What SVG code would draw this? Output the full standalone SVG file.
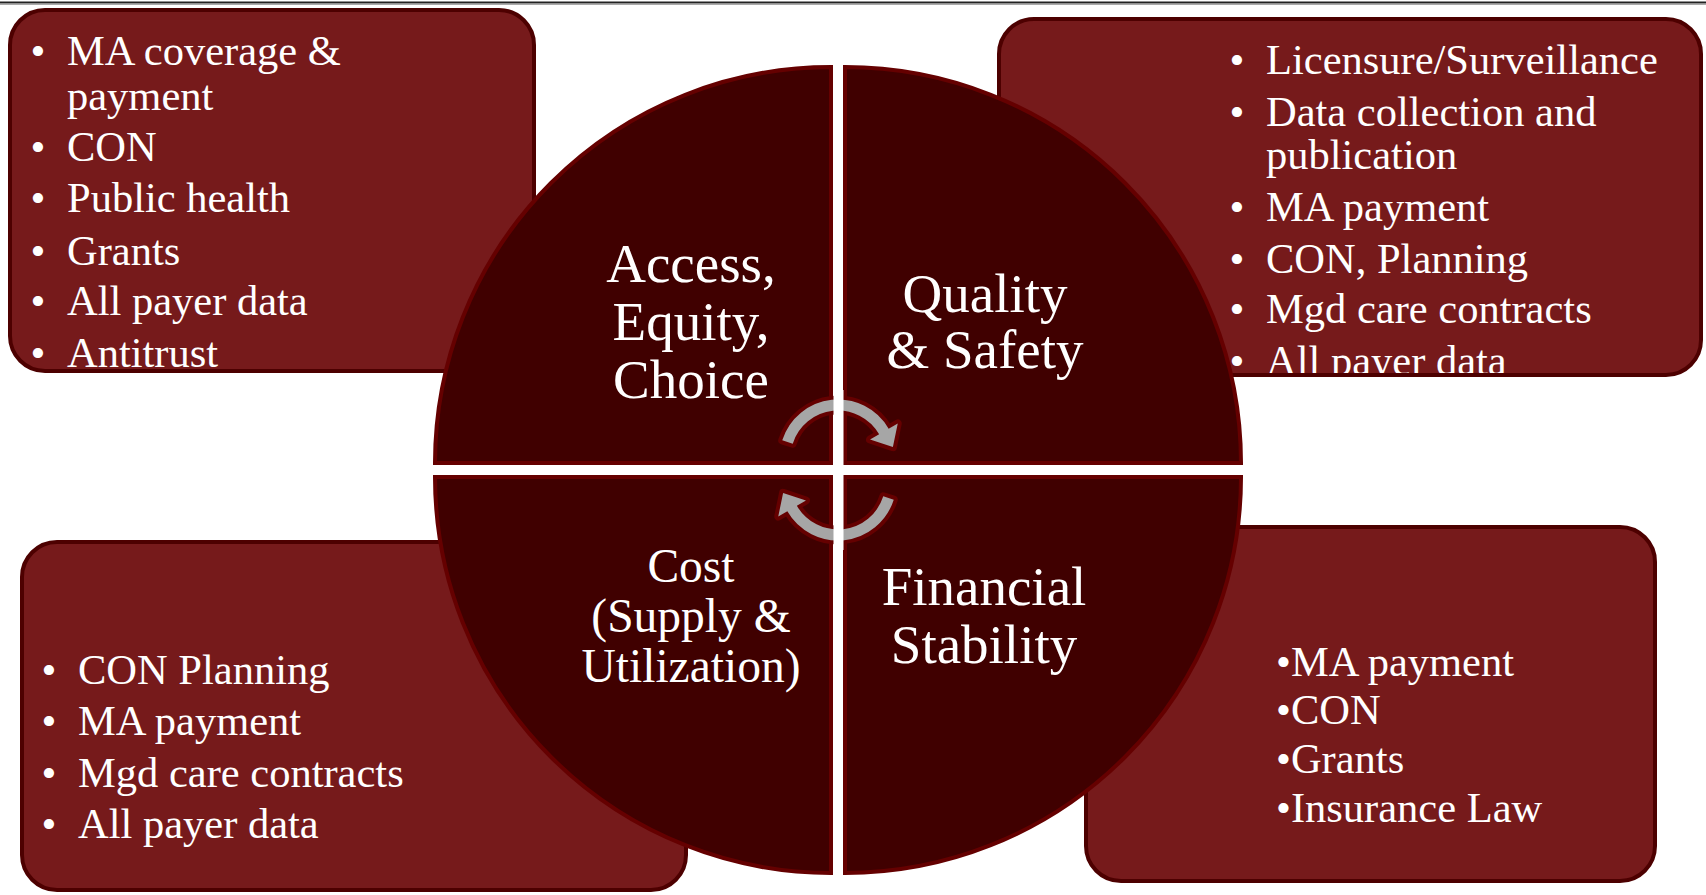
<svg xmlns="http://www.w3.org/2000/svg" width="1706" height="895" viewBox="0 0 1706 895">
<style>
.box{fill:#761a1b;stroke:none}
.boxline{fill:none;stroke:#4d0000;stroke-width:4}
.quad{fill:#400000;stroke:#650000;stroke-width:4}
.t{font-family:"Liberation Serif","Times New Roman",serif;fill:#ffffff}
.b{font-size:42.5px}
.q{font-size:55px;text-anchor:middle}
.qs{font-size:47.5px;text-anchor:middle}
.bul{text-anchor:middle}
.arr{fill:#a6a6a6;stroke:#650000;stroke-width:8;paint-order:stroke;stroke-linejoin:round}
</style>
<rect x="0" y="0" width="1706" height="895" fill="#ffffff"/>
<line x1="0" y1="2.5" x2="1706" y2="2.5" stroke="#222222" stroke-width="2"/>
<line x1="0" y1="4.5" x2="1706" y2="4.5" stroke="#aaaaaa" stroke-width="1"/>

<g id="box-access">
<rect class="box" x="10" y="10" width="524" height="361" rx="35"/>
<g class="t b">
<text class="bul" x="38" y="65">•</text><text x="67" y="65">MA coverage &amp;</text>
<text x="67" y="110">payment</text>
<text class="bul" x="38" y="161">•</text><text x="67" y="161">CON</text>
<text class="bul" x="38" y="212">•</text><text x="67" y="212">Public health</text>
<text class="bul" x="38" y="265">•</text><text x="67" y="265">Grants</text>
<text class="bul" x="38" y="315">•</text><text x="67" y="315">All payer data</text>
<text class="bul" x="38" y="367">•</text><text x="67" y="367">Antitrust</text>
</g>
<rect class="boxline" x="10" y="10" width="524" height="361" rx="35"/>
</g>

<g id="box-quality">
<rect class="box" x="999" y="19" width="702" height="356" rx="35"/>
<g class="t b">
<text class="bul" x="1237" y="74">•</text><text x="1266" y="74">Licensure/Surveillance</text>
<text class="bul" x="1237" y="126">•</text><text x="1266" y="126">Data collection and</text>
<text x="1266" y="169">publication</text>
<text class="bul" x="1237" y="221">•</text><text x="1266" y="221">MA payment</text>
<text class="bul" x="1237" y="273">•</text><text x="1266" y="273">CON, Planning</text>
<text class="bul" x="1237" y="323">•</text><text x="1266" y="323">Mgd care contracts</text>
<text class="bul" x="1237" y="375">•</text><text x="1266" y="375">All payer data</text>
</g>
<rect class="boxline" x="999" y="19" width="702" height="356" rx="35"/>
</g>

<g id="box-cost">
<rect class="box" x="22" y="542" width="664" height="348" rx="35"/>
<g class="t b">
<text class="bul" x="49" y="684">•</text><text x="78" y="684">CON Planning</text>
<text class="bul" x="49" y="735">•</text><text x="78" y="735">MA payment</text>
<text class="bul" x="49" y="787">•</text><text x="78" y="787">Mgd care contracts</text>
<text class="bul" x="49" y="838">•</text><text x="78" y="838">All payer data</text>
</g>
<rect class="boxline" x="22" y="542" width="664" height="348" rx="35"/>
</g>

<g id="box-financial">
<rect class="box" x="1086" y="527" width="569" height="354" rx="35"/>
<g class="t b">
<text x="1276" y="676">•MA payment</text>
<text x="1276" y="724">•CON</text>
<text x="1276" y="773">•Grants</text>
<text x="1276" y="822">•Insurance Law</text>
</g>
<rect class="boxline" x="1086" y="527" width="569" height="354" rx="35"/>
</g>

<g id="quad-access">
<path class="quad" d="M831,463 L435,463 A396,396 0 0 1 831,67 Z"/>
<g class="t q">
<text x="691" y="282">Access,</text>
<text x="691" y="340">Equity,</text>
<text x="691" y="398">Choice</text>
</g>
</g>

<g id="quad-quality">
<path class="quad" d="M845,463 L845,67 A396,396 0 0 1 1241,463 Z"/>
<g class="t q">
<text x="985" y="312">Quality</text>
<text x="985" y="368">&amp; Safety</text>
</g>
</g>

<g id="quad-cost">
<path class="quad" d="M831,477 L831,873 A396,396 0 0 1 435,477 Z"/>
<g class="t qs">
<text x="691" y="582">Cost</text>
<text x="691" y="632">(Supply &amp;</text>
<text x="691" y="682">Utilization)</text>
</g>
</g>

<g id="quad-financial">
<path class="quad" d="M845,477 L1241,477 A396,396 0 0 1 845,873 Z"/>
<g class="t q">
<text x="984" y="605">Financial</text>
<text x="984" y="663">Stability</text>
</g>
</g>

<g id="connectors">
<path class="arr" d="M782.25,440.33 A58.5,58.5 0 0 1 888.66,428.75 L897.75,423.5 L892.9,447.1 L870.04,439.5 L879.14,434.25 A47.5,47.5 0 0 0 792.73,443.65 Z"/>
<path class="arr" transform="rotate(180 838 470)" d="M782.25,440.33 A58.5,58.5 0 0 1 888.66,428.75 L897.75,423.5 L892.9,447.1 L870.04,439.5 L879.14,434.25 A47.5,47.5 0 0 0 792.73,443.65 Z"/>
<rect x="833.5" y="390" width="10" height="160" fill="#ffffff"/>
</g>
</svg>
